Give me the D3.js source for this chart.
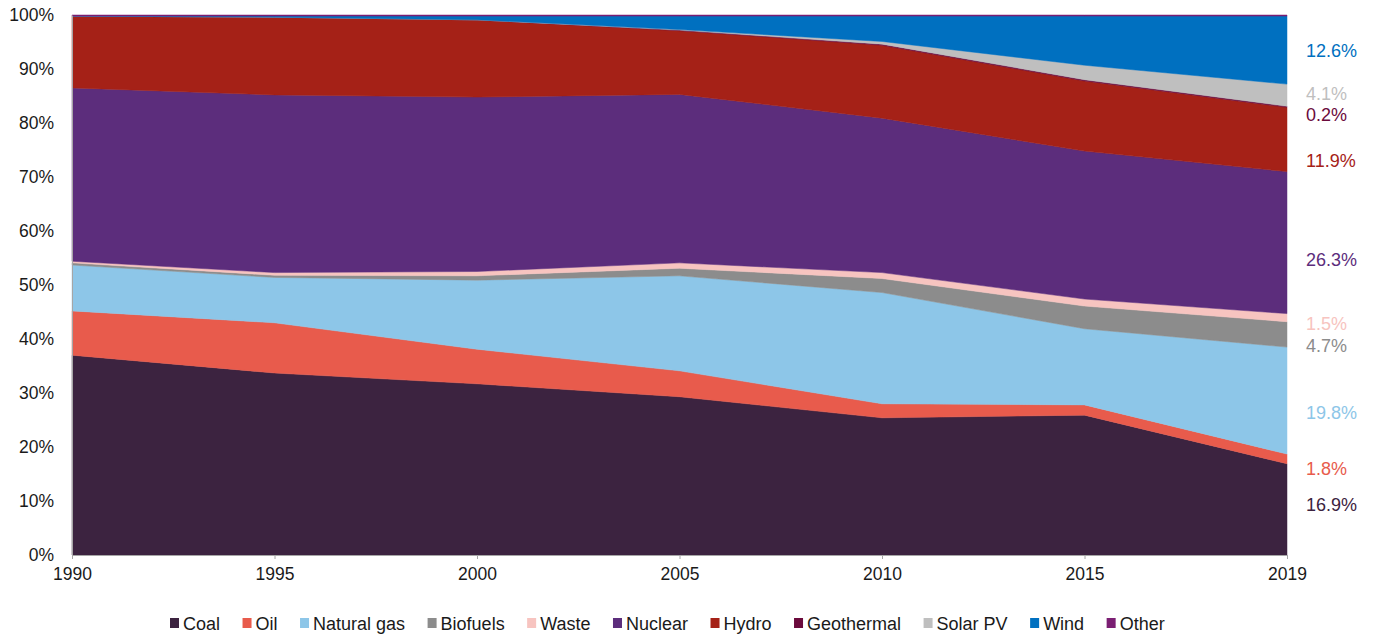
<!DOCTYPE html>
<meta charset="utf-8">
<style>
  body { margin: 0; background: #fff; }
  text { font-family: Arial, "Liberation Sans", sans-serif; }
  .axis text { font-size: 17.5px; fill: #1a1a1a; }
  .axis path, .axis line { stroke: #a6a6a6; }
</style>
<body>
<script src="https://cdn.jsdelivr.net/npm/d3@7"></script>
<script>

var years = ["1990", "1995", "2000", "2005", "2010", "2015", "2019"];

// share of generation, %
var coal       = [37.0, 33.7, 31.7, 29.3, 25.4, 25.9, 16.9];
var oil        = [ 8.2,  9.3,  6.4,  4.8,  2.6,  1.9,  1.8];
var naturalGas = [ 8.5,  8.4, 12.8, 17.6, 20.6, 14.1, 19.8];
var biofuels   = [ 0.4,  0.4,  0.8,  1.4,  2.6,  4.2,  4.7];
var waste      = [ 0.3,  0.5,  0.8,  1.0,  1.1,  1.3,  1.5];
var nuclear    = [32.1, 32.9, 32.3, 31.2, 28.6, 27.4, 26.3];
var hydro      = [13.3, 14.4, 14.3, 11.8, 13.5, 13.0, 11.9];
var geothermal = [ 0.0,  0.0,  0.0,  0.1,  0.2,  0.2,  0.2];
var solarPV    = [ 0.0,  0.0,  0.0,  0.1,  0.5,  2.7,  4.1];
var wind       = [ 0.0,  0.2,  0.7,  2.5,  4.7,  9.1, 12.6];
var other      = [ 0.2,  0.2,  0.2,  0.2,  0.2,  0.2,  0.2];

var yTicks = [0, 0.1, 0.2, 0.3, 0.4, 0.5, 0.6, 0.7, 0.8, 0.9, 1];

var series = [
  {key: "Coal",        values: coal,       color: "#3c2340", labelAt: 9.4},
  {key: "Oil",         values: oil,        color: "#e85b4c", labelAt: 16.1},
  {key: "Natural gas", values: naturalGas, color: "#8dc6e8", labelAt: 26.3},
  {key: "Biofuels",    values: biofuels,   color: "#8c8c8c", labelAt: 38.8},
  {key: "Waste",       values: waste,      color: "#f7c4c0", labelAt: 42.8},
  {key: "Nuclear",     values: nuclear,    color: "#5c2d7c", labelAt: 54.7},
  {key: "Hydro",       values: hydro,      color: "#a52117", labelAt: 73.1},
  {key: "Geothermal",  values: geothermal, color: "#6b0a3c", labelAt: 81.5},
  {key: "Solar PV",    values: solarPV,    color: "#bfbfbf", labelAt: 85.5},
  {key: "Wind",        values: wind,       color: "#0070c0", labelAt: 93.5},
  {key: "Other",       values: other,      color: "#7b1f73", labelAt: null}
];

var width = 1378, height = 636;
var margin = {top: 15, right: 91, bottom: 81, left: 72};

var rows = years.map(function(y, i) {
  var r = {year: y};
  series.forEach(function(s) { r[s.key] = s.values[i]; });
  return r;
});

var stack = d3.stack()
  .keys(series.map(function(s) { return s.key; }))
  .offset(d3.stackOffsetExpand);
var layers = stack(rows);

var x = d3.scalePoint()
  .domain(years)
  .range([margin.left, width - margin.right]);

var y = d3.scaleLinear()
  .domain([0, 1])
  .range([height - margin.bottom, margin.top]);

var area = d3.area()
  .x(function(d) { return x(d.data.year); })
  .y0(function(d) { return y(d[0]); })
  .y1(function(d) { return y(d[1]); });

var svg = d3.select("body").append("svg")
  .attr("width", width)
  .attr("height", height);

svg.append("g").selectAll("path")
  .data(layers)
  .enter().append("path")
  .attr("fill", function(d, i) { return series[i].color; })
  .attr("stroke", function(d, i) { return series[i].color; })
  .attr("stroke-width", 0.5)
  .attr("d", area);

// axes
svg.append("g")
  .attr("class", "axis")
  .attr("transform", "translate(" + margin.left + ",0)")
  .call(d3.axisLeft(y).tickValues(yTicks).tickFormat(d3.format(".0%")).tickSize(0).tickPadding(18))
  .call(function(g) { g.select(".domain").attr("stroke", "#d9d9d9"); });

svg.append("g")
  .attr("class", "axis")
  .attr("transform", "translate(0," + (height - margin.bottom) + ")")
  .call(d3.axisBottom(x).tickSize(4).tickSizeOuter(0).tickPadding(9));

// end-of-series labels for 2019
var last = years.length - 1;
svg.append("g").selectAll("text")
  .data(series.filter(function(s) { return s.labelAt !== null; }))
  .enter().append("text")
  .attr("x", width - margin.right + 19)
  .attr("y", function(s) { return y(s.labelAt / 100) + 6.5; })
  .attr("fill", function(s) { return s.color; })
  .style("font-size", "18px")
  .text(function(s) { return s.values[last].toFixed(1) + "%"; });

// legend
var legend = svg.append("g").attr("transform", "translate(170," + (height - 6) + ")");
var lx = 0;
series.forEach(function(s) {
  var item = legend.append("g").attr("transform", "translate(" + lx + ",0)");
  item.append("rect")
    .attr("x", 0).attr("y", -12)
    .attr("width", 9).attr("height", 10)
    .attr("fill", s.color);
  var t = item.append("text")
    .attr("x", 13).attr("y", 0)
    .style("font-size", "18px")
    .attr("fill", "#1a1a1a")
    .text(s.key);
  lx += 13 + t.node().getComputedTextLength() + 22.5;
});

</script>
</body>
